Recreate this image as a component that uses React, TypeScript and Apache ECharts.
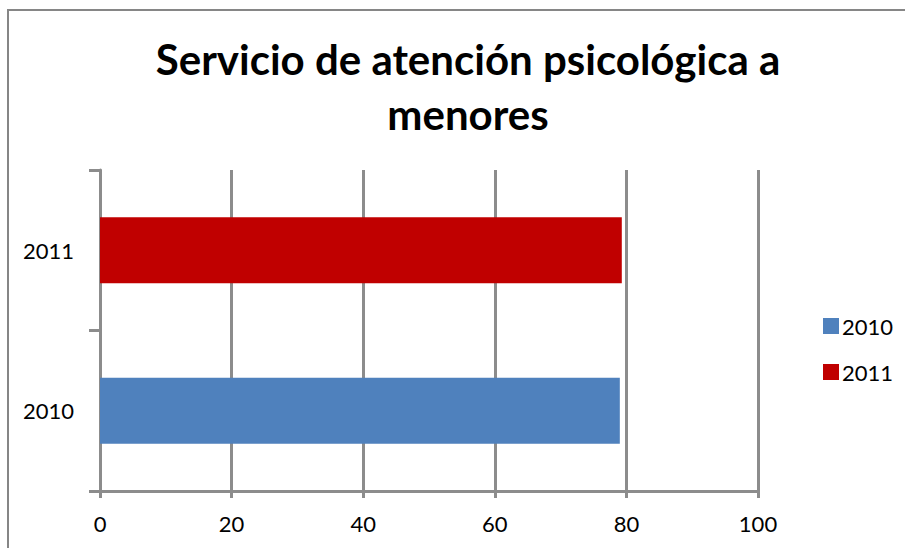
import React, { useEffect, useRef } from "react";
import * as echarts from "echarts";

const titleText = "Servicio de atención psicológica a\nmenores";
const categories = ["2010", "2011"];
const seriesNames = ["2010", "2011"];
const values2010: (number | string)[] = [79.0, "-"];
const values2011: (number | string)[] = ["-", 79.3];
const colors = ["#4F81BD", "#C00000"];
const xTicks = { min: 0, max: 100, interval: 20 };

const FONT = "Lato";
const GRID_GRAY = "#8c8c8c";

export default function App() {
  const ref = useRef<HTMLDivElement>(null);
  useEffect(() => {
    if (!ref.current) return;
    const chart = echarts.init(ref.current, null, { renderer: "svg" });
    chart.setOption({
      animation: false,
      backgroundColor: "#ffffff",
      title: {
        text: titleText,
        left: 463,
        top: 26,
        textAlign: "center",
        textStyle: {
          fontFamily: FONT,
          fontSize: 42,
          fontWeight: "bold",
          color: "#000000",
          lineHeight: 55,
        },
      },
      graphic: [
        {
          type: "rect",
          shape: { x: 8, y: 10, width: 1000, height: 700 },
          style: { fill: "none", stroke: "#868686", lineWidth: 2 },
          silent: true,
        },
      ],
      legend: {
        orient: "vertical",
        left: 818,
        top: 310,
        itemWidth: 16,
        itemHeight: 16,
        itemGap: 24,
        icon: "rect",
        data: seriesNames,
        textStyle: { fontFamily: FONT, fontSize: 22, color: "#000", padding: [0, 0, 0, -2] },
      },
      grid: { left: 100, right: 147, top: 170, bottom: 57 },
      xAxis: {
        type: "value",
        min: xTicks.min,
        max: xTicks.max,
        interval: xTicks.interval,
        axisLine: { show: true, lineStyle: { color: GRID_GRAY, width: 3 } },
        axisTick: { show: true, length: 7, lineStyle: { color: GRID_GRAY, width: 3 } },
        splitLine: { show: true, lineStyle: { color: GRID_GRAY, width: 3 } },
        axisLabel: { fontFamily: FONT, fontSize: 22, color: "#000", margin: 21 },
      },
      yAxis: {
        type: "category",
        data: categories,
        axisLine: { show: true, lineStyle: { color: GRID_GRAY, width: 3 } },
        axisTick: { show: true, length: 11, lineStyle: { color: GRID_GRAY, width: 3 } },
        axisLabel: { fontFamily: FONT, fontSize: 22, color: "#000", margin: 26 },
        splitLine: { show: false },
      },
      series: [
        {
          name: seriesNames[0],
          type: "bar",
          stack: "all",
          data: values2010,
          barWidth: 66,
          itemStyle: { color: colors[0] },
        },
        {
          name: seriesNames[1],
          type: "bar",
          stack: "all",
          data: values2011,
          barWidth: 66,
          itemStyle: { color: colors[1] },
        },
      ],
    });
    return () => chart.dispose();
  }, []);
  return (
    <div
      ref={ref}
      style={{ position: "fixed", left: 0, top: 0, width: 905, height: 548 }}
    />
  );
}
